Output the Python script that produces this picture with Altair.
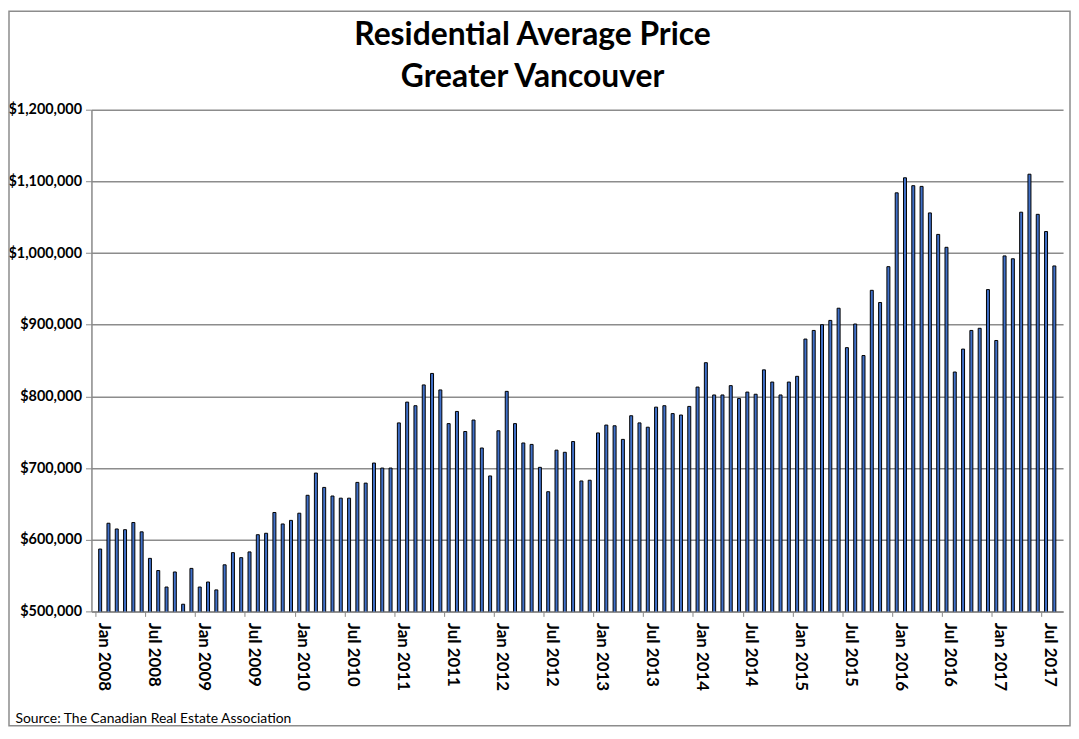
import altair as alt
import pandas as pd

MONTHS = ["Jan", "Feb", "Mar", "Apr", "May", "Jun", "Jul", "Aug", "Sep", "Oct", "Nov", "Dec"]

# Average residential price (thousands of dollars)
p2008 = [587, 623, 615, 614, 624, 611, 574, 557, 534, 555, 510, 560]
p2009 = [534, 541, 530, 565, 582, 575, 583, 607, 609, 638, 622, 627]
p2010 = [637, 662, 693, 673, 661, 658, 658, 680, 679, 707, 700, 700]
p2011 = [763, 792, 787, 816, 832, 809, 762, 779, 751, 767, 728, 689]
p2012 = [752, 807, 762, 735, 733, 701, 667, 725, 722, 737, 682, 683]
p2013 = [749, 760, 759, 740, 773, 763, 757, 785, 787, 776, 774, 786]
p2014 = [813, 847, 802, 802, 815, 797, 806, 803, 837, 820, 802, 820]
p2015 = [828, 880, 892, 900, 906, 923, 868, 901, 857, 948, 931, 981]
p2016 = [1084, 1105, 1094, 1093, 1056, 1026, 1008, 834, 866, 892, 895, 949]
p2017 = [878, 996, 992, 1057, 1110, 1054, 1030, 982]

years = [2008, 2009, 2010, 2011, 2012, 2013, 2014, 2015, 2016, 2017]
series = [p2008, p2009, p2010, p2011, p2012, p2013, p2014, p2015, p2016, p2017]

TITLE_LINES = ["Residential Average Price", "Greater Vancouver"]
SOURCE = "Source: The Canadian Real Estate Association"

labels, prices = [], []
for yr, vals in zip(years, series):
    for i, v in enumerate(vals):
        labels.append(f"{MONTHS[i]} {yr}")
        prices.append(v * 1000)

df = pd.DataFrame({"month": labels, "price": prices})
tick_values = [m for m in labels if m.startswith("Jan") or m.startswith("Jul")]
one = pd.DataFrame({"k": [0]})

FONT = "Lato"

bars = alt.Chart(df).mark_bar(
    size=3, color="#4070C8", stroke="#000000", strokeWidth=1, clip=True
).encode(
    x=alt.X(
        "month:O",
        sort=labels,
        scale=alt.Scale(paddingInner=0, paddingOuter=0.55),
        axis=alt.Axis(
            values=tick_values,
            labelAngle=90,
            labelAlign="left",
            labelBaseline="middle",
            labelFont=FONT,
            labelFontSize=17,
            labelFontWeight="bold",
            labelColor="#000000",
            labelPadding=6,
            labelOffset=4,
            bandPosition=0,
            tickSize=5,
            tickColor="#888888",
            domainColor="#888888",
            domainWidth=1.5,
            grid=False,
            title=SOURCE,
            titleFont=FONT,
            titleFontSize=14,
            titleFontWeight="normal",
            titleColor="#000000",
            titleAnchor="start",
            titleAlign="left",
            titleBaseline="alphabetic",
            titleX=-77,
            titleY=112,
        ),
    ),
    y=alt.Y(
        "price:Q",
        scale=alt.Scale(domain=[500000, 1200000], zero=False, nice=False),
        axis=alt.Axis(
            values=[500000, 600000, 700000, 800000, 900000, 1000000, 1100000, 1200000],
            format="$,.0f",
            labelFont=FONT,
            labelFontSize=14.5,
            labelFontWeight="bold",
            labelColor="#000000",
            labelPadding=4,
            tickSize=6,
            tickColor="#888888",
            domainColor="#888888",
            domainWidth=1.5,
            gridColor="#8C8C8C",
            gridWidth=1.5,
            title=None,
        ),
    ),
)

title = alt.Chart(one).mark_text(
    text=TITLE_LINES,
    font=FONT,
    fontSize=32,
    fontWeight="bold",
    color="#000000",
    align="center",
    baseline="alphabetic",
    lineHeight=42,
).encode(x=alt.value(444), y=alt.value(-65))

frame = alt.Chart(one).mark_rect(
    filled=False, stroke="#8C8C8C", strokeWidth=1.5
).encode(
    x=alt.value(-83),
    x2=alt.value(985),
    y=alt.value(-99),
    y2=alt.value(620),
)

chart = alt.layer(bars, title, frame).properties(
    width=978,
    height=505,
    padding={"left": 84, "top": 100, "right": 8, "bottom": 116},
    autosize=alt.AutoSizeParams(type="none"),
).configure_view(stroke=None)

chart.save("out.html", embed_options={"renderer": "svg", "actions": False})
